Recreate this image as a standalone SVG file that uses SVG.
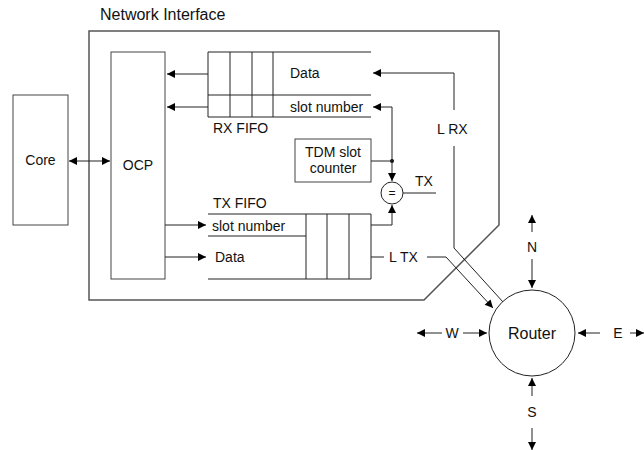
<svg xmlns="http://www.w3.org/2000/svg" width="644" height="450" viewBox="0 0 644 450">
<defs>
<marker id="ah" viewBox="0 0 10 10" refX="10" refY="5" markerWidth="10" markerHeight="8" markerUnits="userSpaceOnUse" orient="auto-start-reverse">
<path d="M0,0 L10,5 L0,10 z" fill="#000"/>
</marker>
<style>
text{font-family:"Liberation Sans",Arial,sans-serif;font-size:14px;fill:#111}
text.big{font-size:16px}
text.eq{font-size:12px}
.box{fill:#fff;stroke:#444;stroke-width:1}
.ln{fill:none;stroke:#222;stroke-width:1}
.ar{fill:none;stroke:#222;stroke-width:1;marker-end:url(#ah)}
.ar2{fill:none;stroke:#222;stroke-width:1;marker-end:url(#ah);marker-start:url(#ah)}
.mid{text-anchor:middle}
</style>
</defs>
<rect width="644" height="450" fill="#fff"/>
<g id="ni">
<path d="M89,31 H499 V225 L424,300 H89 Z" fill="none" stroke="#555" stroke-width="1.5"/>
<text class="big" x="100" y="20">Network Interface</text>
</g>
<g id="core">
<rect class="box" x="13" y="95" width="55" height="130"/>
<text class="mid" x="40.5" y="165">Core</text>
</g>
<g id="ocp">
<rect class="box" x="111" y="52" width="54" height="227"/>
<text class="mid" x="138" y="170">OCP</text>
</g>
<g id="rxfifo">
<path class="ln" d="M208,52 H371 M208,95 H371 M208,117 H371 M208,52 V117 M230,52 V117 M252,52 V117 M273,52 V117"/>
<text x="290" y="78">Data</text>
<text x="290" y="112">slot number</text>
<text x="213" y="133">RX FIFO</text>
</g>
<g id="txfifo">
<path class="ln" d="M208,214 H371 M208,236 H306 M208,279 H371 M306,214 V279 M327,214 V279 M349,214 V279 M371,214 V279"/>
<text x="213" y="208">TX FIFO</text>
<text x="212" y="231">slot number</text>
<text x="215" y="262">Data</text>
</g>
<g id="tdm">
<rect class="box" x="295" y="139" width="76" height="43"/>
<text class="mid" x="333" y="157">TDM slot</text>
<text class="mid" x="333" y="173">counter</text>
</g>
<g id="cmp">
<circle cx="392" cy="193" r="11" fill="#fff" stroke="#222"/>
<text class="mid eq" x="392" y="197">=</text>
</g>
<g id="router">
<circle cx="532" cy="333" r="43" fill="#fff" stroke="#222"/>
<text class="mid big" x="532" y="339">Router</text>
</g>
<g id="connectors">
<path class="ar2" d="M69,161 H110"/>
<path class="ar" d="M208,74 H167"/>
<path class="ar" d="M208,107 H167"/>
<path class="ar" d="M165,225 H206"/>
<path class="ar" d="M165,257 H206"/>
<path class="ar" d="M454,110 V73 H373"/>
<path class="ln" d="M454,146 V248 L503,302"/>
<path class="ar" d="M392,161 V107 H373"/>
<circle cx="392" cy="161" r="2" fill="#111"/>
<path class="ln" d="M371,161 H392"/>
<path class="ar" d="M392,161 V181"/>
<path class="ar" d="M371,225 H392 V205"/>
<path class="ln" d="M403,193 H436"/>
<text x="415" y="186">TX</text>
<path class="ln" d="M371,257 H384"/>
<text x="389" y="262">L TX</text>
<text x="437" y="134">L RX</text>
<path class="ar" d="M427,257 H446 L493,308"/>
<path class="ar" d="M532,232 V215"/>
<path class="ar" d="M532,259 V288"/>
<text class="mid" x="532" y="252">N</text>
<path class="ar" d="M442,333 H417"/>
<path class="ar" d="M463,333 H487"/>
<text class="mid" x="452" y="338">W</text>
<path class="ar" d="M600,333 H578"/>
<path class="ar" d="M630,333 H644"/>
<text class="mid" x="618" y="338">E</text>
<path class="ar" d="M532,396 V378"/>
<path class="ar" d="M532,428 V450"/>
<text class="mid" x="532" y="417">S</text>
</g>
</svg>
